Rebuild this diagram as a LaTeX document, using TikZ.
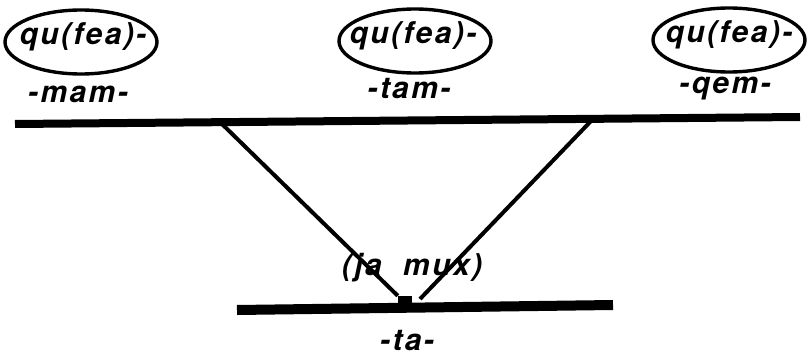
\documentclass[tikz,border=0pt]{standalone}
\usepackage{fontspec}
\newfontfamily\labfont[LetterSpace=8]{TeX Gyre Heros}
\usetikzlibrary{shapes.geometric}
\tikzset{
  lab/.style={inner sep=0pt, anchor=base, font=\labfont\bfseries\itshape\fontsize{30}{34}\selectfont},
  oval/.style={draw, ellipse, line width=3.4pt, minimum width=152pt, minimum height=64pt, inner sep=0pt},
  bar/.style={line width=8pt},
  wire/.style={line width=4pt},
}
\begin{document}
\begin{tikzpicture}[x=1pt,y=-1pt]
\useasboundingbox (0,0) rectangle (807,359);
% ellipses and their texts
\node[oval] (e1) at (81,42) {};
\node[oval] (e2) at (415,41) {};
\node[oval] (e3) at (729,40) {};
\node[lab] (q1) at (83,44) {qu(fea)-};
\node[lab] (q2) at (413,43) {qu(fea)-};
\node[lab] (q3) at (729,42) {qu(fea)-};
\node[lab] (m1) at (78,102) {-mam-};
\node[lab] (m2) at (409,98) {-tam-};
\node[lab] (m3) at (725,93) {-qem-};
% top bar
\coordinate (tl) at (15,124);
\coordinate (tr) at (800,117);
\coordinate (j1) at (222,124);
\coordinate (j2) at (592,120);
\draw[bar] (tl) -- (tr);
% bottom bar
\coordinate (bl) at (237,310);
\coordinate (br) at (613,305);
\draw[line width=10pt] (bl) -- (br);
\node[fill=black, minimum width=14pt, minimum height=10pt, inner sep=0pt] (sq) at (405,301) {};
\coordinate (jr) at (420,299);
\draw[wire] (j1) -- (sq.north west);
\draw[wire] (j2) -- (jr);
% junction label
\node[lab] (jm) at (412,275) {(ja\ \ mux)};
\node[lab] (ta) at (407,350) {-ta-};
\end{tikzpicture}
\end{document}
